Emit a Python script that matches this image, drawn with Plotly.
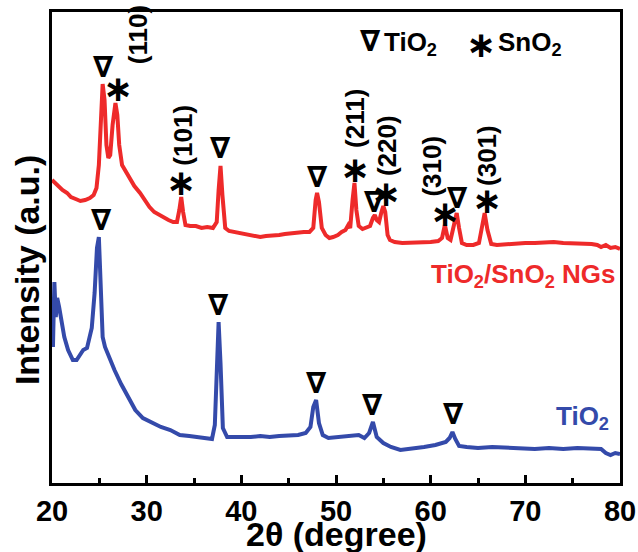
import plotly.graph_objects as go

# ---------------- data (2θ in degrees, intensity in a.u.) ----------------
red_x = [20.0, 20.3, 20.7, 21.1, 21.6, 22.0, 22.5, 23.0, 23.5, 24.0, 24.4, 24.7, 24.95,
         25.15, 25.35, 25.55, 25.75, 25.95, 26.15, 26.4, 26.7, 26.9, 27.1, 27.4, 27.8,
         28.2, 28.7, 29.3, 29.8, 30.3, 30.8, 31.3, 31.8, 32.3, 32.8, 33.2, 33.45, 33.65,
         33.85, 34.1, 34.6, 35.2, 35.8, 36.4, 37.0, 37.4, 37.6, 37.8, 38.0, 38.3, 38.7,
         39.3, 40.0, 40.6, 41.3, 42.0, 42.6, 43.3, 44.0, 44.6, 45.3, 46.0, 46.6, 47.2,
         47.6, 47.85, 48.0, 48.2, 48.5, 48.9, 49.3, 49.7, 50.2, 50.6, 51.0, 51.3, 51.5,
         51.75, 51.95, 52.15, 52.4, 52.8, 53.2, 53.6, 53.9, 54.1, 54.3, 54.55, 54.8, 55.0,
         55.2, 55.45, 55.7, 56.2, 57.0, 58.0, 59.0, 60.0, 60.8, 61.2, 61.5, 61.8, 62.1,
         62.5, 62.75, 63.0, 63.3, 63.8, 64.5, 65.1, 65.4, 65.7, 66.0, 66.4, 67.0, 68.0,
         69.0, 70.0, 71.0, 72.0, 73.0, 74.0, 75.0, 76.0, 77.0, 77.6, 78.0, 78.5, 79.0,
         79.5, 80.0]
red_y = [303, 300, 297, 293, 290, 286, 284, 282, 283, 285, 288, 295, 318,
         363, 399, 383, 338, 325, 328, 358, 380, 368, 338, 318, 311,
         305, 297, 290, 283, 276, 271, 268, 265, 263, 261, 261, 273, 286,
         271, 258, 257, 257, 255, 256, 255, 261, 293, 317, 288, 255, 252,
         251, 249, 248, 247, 246, 247, 247, 248, 249, 250, 250, 251, 251,
         255, 283, 290, 281, 255, 248, 245, 246, 248, 251, 253, 258, 255,
         283, 300, 273, 257, 254, 255, 257, 265, 268, 263, 261, 271, 277,
         271, 248, 243, 241, 240, 240, 240, 241, 242, 245, 258, 245, 243,
         258, 270, 255, 240, 238, 238, 240, 255, 270, 253, 239, 238, 239,
         239, 240, 240, 241, 241, 240, 240, 239, 239, 238, 236, 238, 235,
         236, 234]

blue_x = [20.1, 20.25, 20.4, 20.55, 20.75, 21.0, 21.3, 21.7, 22.2, 22.6, 23.0, 23.3,
          23.7, 24.2, 24.5, 24.75, 24.95, 25.15, 25.35, 25.6, 26.0, 26.6, 27.3, 28.0,
          28.8, 29.6, 30.6, 31.5, 32.5, 33.5, 34.5, 35.2, 35.8, 36.4, 36.9, 37.2, 37.45,
          37.6, 37.8, 38.05, 38.5, 39.2, 40.0, 41.0, 42.0, 43.0, 44.0, 45.0, 46.0, 46.8,
          47.3, 47.6, 47.9, 48.2, 48.6, 49.2, 50.0, 50.8, 51.6, 52.4, 53.0, 53.5, 53.9,
          54.3, 55.0, 55.8, 56.8, 58.0, 59.3, 60.5, 61.6, 62.0, 62.3, 62.6, 63.0, 63.8,
          65.0, 66.5, 68.0, 69.5, 71.0, 72.5, 74.0, 75.5, 77.0, 78.0, 78.5, 79.0, 79.5,
          80.0]
blue_y = [136, 201, 166, 185, 176, 163, 146, 133, 123, 123, 128, 133,
          135, 155, 190, 235, 246, 188, 146, 136, 126, 113, 99, 86,
          73, 65, 60, 56, 53, 48, 47, 46, 45, 44, 44, 58, 110,
          161, 120, 55, 46, 46, 45, 46, 47, 46, 47, 48, 48, 50,
          56, 76, 83, 60, 48, 45, 46, 47, 48, 48, 45, 50, 61,
          46, 40, 36, 33, 34, 36, 38, 41, 45, 51, 44, 37, 36,
          35, 36, 35, 34, 34, 35, 34, 35, 35, 34, 30, 28, 30,
          29]

# peak markers: positions (2θ, intensity)
red_tri_x = [25.4, 37.75, 48.0, 54.1, 62.8]
red_tri_y = [416, 335, 306, 281, 285]
red_star_x = [26.95, 33.6, 52.0, 55.25, 61.5, 65.9]
red_star_y = [395, 301, 314, 290, 270, 283]
blue_tri_x = [25.2, 37.6, 47.95, 53.9, 62.4]
blue_tri_y = [263, 178, 100, 78, 69]

hkl_labels = ["(110)", "(101)", "(211)", "(220)", "(310)", "(301)"]
hkl_x = [29.1, 33.8, 52.0, 55.4, 60.1, 65.95]
hkl_y = [448, 348, 365, 337, 317, 328]

RED = "rgb(238,42,42)"
BLUE = "rgb(52,74,170)"
TXT = "Liberation Sans, Arial, sans-serif"
SYM = "DejaVu Sans, sans-serif"

fig = go.Figure()
fig.add_trace(go.Scatter(x=red_x, y=red_y, mode="lines",
                         line=dict(color=RED, width=4), showlegend=False))
fig.add_trace(go.Scatter(x=blue_x, y=blue_y, mode="lines",
                         line=dict(color=BLUE, width=4), showlegend=False))

ann = []
def sym(x, y, s, size):
    ann.append(dict(x=x, y=y, xref="x", yref="y", text=s, showarrow=False,
                    xanchor="center", yanchor="middle",
                    font=dict(family=SYM, size=size, color="black", weight="bold")))

for x, y in zip(red_tri_x, red_tri_y):
    sym(x, y, "∇", 29)
for x, y in zip(blue_tri_x, blue_tri_y):
    sym(x, y, "∇", 29)
for x, y in zip(red_star_x, red_star_y):
    sym(x, y, "∗", 36)
for t, x, y in zip(hkl_labels, hkl_x, hkl_y):
    ann.append(dict(x=x, y=y, xref="x", yref="y", text=t, showarrow=False,
                    textangle=-90, xanchor="center", yanchor="middle",
                    font=dict(family=TXT, size=26, color="black", weight="bold")))

# legend-like key
sym(53.6, 442, "∇", 29)
ann.append(dict(x=54.9, y=440, xref="x", yref="y", text="TiO<sub>2</sub>", showarrow=False,
                xanchor="left", yanchor="middle",
                font=dict(family=TXT, size=26, color="black", weight="bold")))
sym(65.3, 439, "∗", 36)
ann.append(dict(x=66.95, y=440, xref="x", yref="y", text="SnO<sub>2</sub>", showarrow=False,
                xanchor="left", yanchor="middle",
                font=dict(family=TXT, size=26, color="black", weight="bold")))

# series labels
ann.append(dict(x=79.7, y=208, xref="x", yref="y", text="TiO<sub>2</sub>/SnO<sub>2</sub> NGs",
                showarrow=False, xanchor="right", yanchor="middle",
                font=dict(family=TXT, size=26, color=RED, weight="bold")))
ann.append(dict(x=79.0, y=66, xref="x", yref="y", text="TiO<sub>2</sub>",
                showarrow=False, xanchor="right", yanchor="middle",
                font=dict(family=TXT, size=26, color=BLUE, weight="bold")))

# axis titles
ann.append(dict(x=0.5, y=0, xref="paper", yref="paper", text="2θ (degree)",
                showarrow=False, xanchor="center", yanchor="top", yshift=-30,
                font=dict(family=TXT, size=34, color="black", weight="bold")))
ann.append(dict(x=0, y=0.452, xref="paper", yref="paper", text="Intensity (a.u.)",
                showarrow=False, xanchor="center", yanchor="middle", xshift=-25,
                textangle=-90,
                font=dict(family=TXT, size=34, color="black", weight="bold")))

fig.update_layout(
    width=638, height=552,
    margin=dict(l=52, r=18, t=12, b=69, autoexpand=False),
    plot_bgcolor="white", paper_bgcolor="white",
    annotations=ann,
    showlegend=False,
)
fig.update_xaxes(range=[20, 80], tickvals=[20, 30, 40, 50, 60, 70, 80],
                 ticks="inside", ticklen=8, tickwidth=2.5, tickcolor="black",
                 minor=dict(tickvals=[25, 35, 45, 55, 65, 75], ticks="inside",
                            ticklen=5, tickwidth=2.5, tickcolor="black"),
                 showline=True, linewidth=3, linecolor="black", mirror=True,
                 showgrid=False, zeroline=False, automargin=False,
                 tickfont=dict(family=TXT, size=29, color="black", weight="bold"))
fig.update_yaxes(range=[0, 471], showticklabels=False, ticks="",
                 showline=True, linewidth=3, linecolor="black", mirror=True,
                 showgrid=False, zeroline=False, automargin=False)

fig.write_html("out.html", config={"displayModeBar": False},
               post_script="document.body.style.margin='0';document.body.style.overflow='hidden';")
